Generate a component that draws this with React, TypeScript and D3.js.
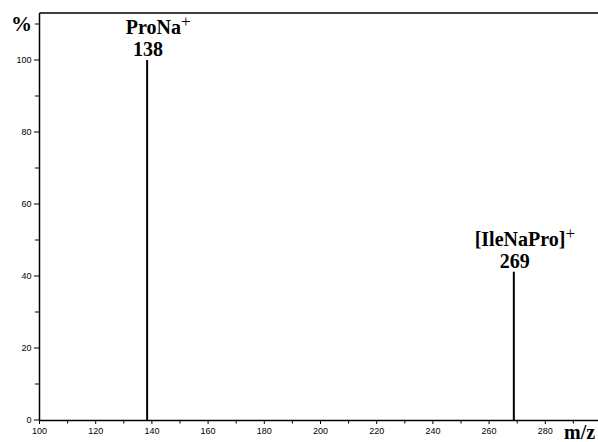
import React from "react";
import * as d3 from "d3";

const mzValues = [138.3, 268.8];
const intensities = [100, 41.2];
const peakNames = ["ProNa", "[IleNaPro]"];
const peakMasses = ["138", "269"];
const xTicks = [100, 120, 140, 160, 180, 200, 220, 240, 260, 280];
const yTicks = [0, 20, 40, 60, 80, 100];

export default function App() {
  const W = 598, H = 442;
  const x = d3.scaleLinear().domain([100, 300]).range([39.5, 601.5]);
  const y = d3.scaleLinear().domain([0, 100]).range([420, 60]);
  const minorX = d3.range(110, 300, 20);
  const minorY = d3.range(10, 120, 20);
  const tickFont = "Arial, 'Liberation Sans', sans-serif";
  const serif = "'Times New Roman', 'Liberation Serif', serif";
  return (
    <svg width={W} height={H} style={{ position: "absolute", left: 0, top: 0, background: "#fff" }}>
      <line x1={39.5} x2={598} y1={13} y2={13} stroke="#000" strokeWidth={1.5} />
      <line x1={39.5} x2={39.5} y1={13} y2={420.5} stroke="#000" strokeWidth={1.5} />
      <line x1={39.5} x2={598} y1={420.5} y2={420.5} stroke="#000" strokeWidth={1.5} />
      {yTicks.map((t) => (
        <g key={"y" + t}>
          <line x1={34} x2={39.5} y1={y(t)} y2={y(t)} stroke="#000" strokeWidth={1} />
          <text x={31.5} y={y(t) + 3} textAnchor="end" fontFamily={tickFont} fontSize={9}>{t}</text>
        </g>
      ))}
      {minorY.map((t) => (
        <line key={"my" + t} x1={35} x2={39.5} y1={y(t)} y2={y(t)} stroke="#000" strokeWidth={1} />
      ))}
      {xTicks.map((t) => (
        <g key={"x" + t}>
          <line x1={x(t)} x2={x(t)} y1={420.5} y2={424} stroke="#000" strokeWidth={1} />
          <text x={x(t)} y={434} textAnchor="middle" fontFamily={tickFont} fontSize={9}>{t}</text>
        </g>
      ))}
      {minorX.map((t) => (
        <line key={"mx" + t} x1={x(t)} x2={x(t)} y1={420.5} y2={423.5} stroke="#000" strokeWidth={1} />
      ))}
      {mzValues.map((m, i) => (
        <line key={"p" + i} x1={x(m)} x2={x(m)} y1={y(0)} y2={y(intensities[i])} stroke="#000" strokeWidth={2} />
      ))}
      {mzValues.map((m, i) => (
        <g key={"l" + i} fontFamily={serif} fontWeight="bold">
          <text x={x(m) + 11} y={y(intensities[i]) - 26} textAnchor="middle" fontSize={20}>
            {peakNames[i]}
            <tspan fontWeight="normal" fontSize={17} dy={-7}>+</tspan>
          </text>
          <text x={x(m) + 1} y={y(intensities[i]) - 4} textAnchor="middle" fontSize={20}>{peakMasses[i]}</text>
        </g>
      ))}
      <text x={11} y={31} fontFamily={serif} fontWeight="bold" fontSize={21}>%</text>
      <text x={564} y={439} fontFamily={serif} fontWeight="bold" fontSize={20}>m/z</text>
    </svg>
  );
}
